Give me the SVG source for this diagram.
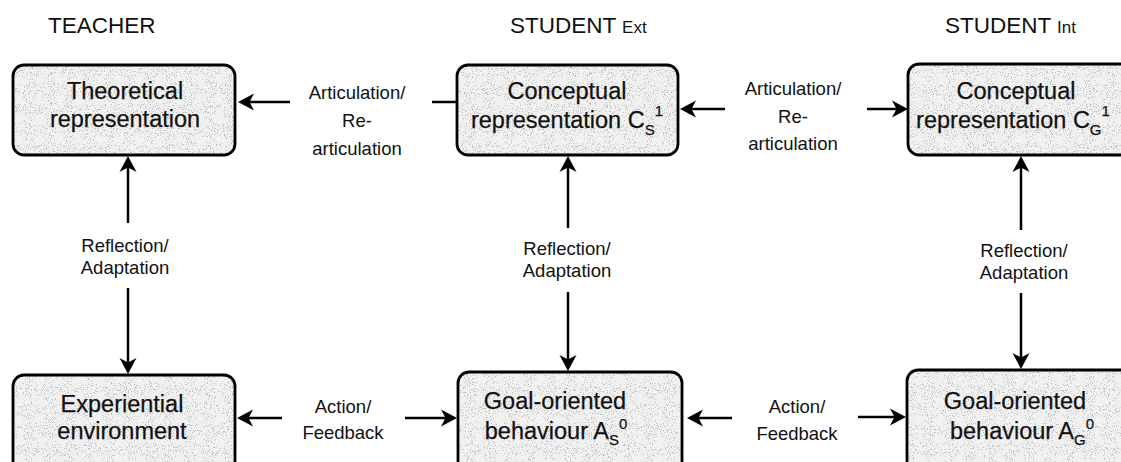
<svg xmlns="http://www.w3.org/2000/svg" width="1121" height="462" viewBox="0 0 1121 462">
  <defs>
    <style>
      text { font-family: "Liberation Sans", Arial, sans-serif; fill: #111; }
      .head { font-size: 22.5px; }
      .headsub { font-size: 17px; }
      .node { font-size: 23.5px; text-anchor: middle; stroke: #111; stroke-width: 0.25px; }
      .idx { font-size: 15px; }
      .lbl { font-size: 18.5px; text-anchor: middle; }
      .fill { fill: #f1f1f1; stroke: none; filter: url(#grain); }
      .edge { fill: none; stroke: #000; stroke-width: 2.8; }
      .link { fill: none; stroke: #000; stroke-width: 2.5; }
      .arrow { marker-end: url(#head); }
    </style>
    <!-- speckled grey fill for the boxes -->
    <filter id="grain" x="0" y="0" width="100%" height="100%">
      <feTurbulence type="fractalNoise" baseFrequency="0.95" numOctaves="2" seed="7" result="noise"/>
      <feColorMatrix in="noise" type="matrix" values="0 0 0 0 0.5  0 0 0 0 0.5  0 0 0 0 0.5  9 0 0 0 -5.3" result="dots"/>
      <feComposite in="dots" in2="SourceGraphic" operator="in" result="clipped"/>
      <feMerge>
        <feMergeNode in="SourceGraphic"/>
        <feMergeNode in="clipped"/>
      </feMerge>
    </filter>
    <!-- barbed arrowhead; tip sits 6px past the line end -->
    <marker id="head" markerUnits="userSpaceOnUse" viewBox="-11 -9 18 18" refX="0" refY="0" markerWidth="18" markerHeight="18" orient="auto">
      <path d="M6,0 L-10,-8.5 L-5.5,0 L-10,8.5 Z" fill="#000"/>
    </marker>
  </defs>

  <rect width="1121" height="462" fill="#fff"/>

  <!-- column headings -->
  <g id="headings">
    <text class="head" x="48" y="33">TEACHER</text>
    <text class="head" x="510" y="33">STUDENT <tspan class="headsub">Ext</tspan></text>
    <text class="head" x="945" y="33">STUDENT <tspan class="headsub">Int</tspan></text>
  </g>

  <!-- connectors -->
  <g id="connectors">
    <!-- articulation, top row -->
    <line class="link arrow" x1="290" y1="102" x2="244" y2="102"/>
    <line class="link" x1="432" y1="102" x2="457" y2="102"/>
    <line class="link arrow" x1="725" y1="109" x2="686" y2="109"/>
    <line class="link arrow" x1="867" y1="109" x2="902" y2="109"/>
    <!-- reflection / adaptation, vertical -->
    <line class="link arrow" x1="128" y1="223" x2="128" y2="162"/>
    <line class="link arrow" x1="128" y1="288" x2="128" y2="368"/>
    <line class="link arrow" x1="568" y1="228" x2="568" y2="162"/>
    <line class="link arrow" x1="568" y1="292" x2="568" y2="365"/>
    <line class="link arrow" x1="1021" y1="230" x2="1021" y2="162"/>
    <line class="link arrow" x1="1021" y1="293" x2="1021" y2="363"/>
    <!-- action / feedback, bottom row -->
    <line class="link arrow" x1="282" y1="418" x2="243" y2="418"/>
    <line class="link arrow" x1="405" y1="418" x2="451" y2="418"/>
    <line class="link arrow" x1="732" y1="418" x2="693" y2="418"/>
    <line class="link arrow" x1="858" y1="417" x2="900" y2="417"/>
  </g>

  <!-- connector labels -->
  <g id="labels">
    <text class="lbl" x="357" y="99">Articulation/</text>
    <text class="lbl" x="357" y="127">Re-</text>
    <text class="lbl" x="357" y="155">articulation</text>
    <text class="lbl" x="793" y="95">Articulation/</text>
    <text class="lbl" x="793" y="123">Re-</text>
    <text class="lbl" x="793" y="150">articulation</text>
    <text class="lbl" x="125" y="252">Reflection/</text>
    <text class="lbl" x="125" y="274">Adaptation</text>
    <text class="lbl" x="567" y="255">Reflection/</text>
    <text class="lbl" x="567" y="277">Adaptation</text>
    <text class="lbl" x="1024" y="257">Reflection/</text>
    <text class="lbl" x="1024" y="279">Adaptation</text>
    <text class="lbl" x="343" y="413">Action/</text>
    <text class="lbl" x="343" y="439">Feedback</text>
    <text class="lbl" x="797" y="413">Action/</text>
    <text class="lbl" x="797" y="440">Feedback</text>
  </g>

  <g id="theoretical">
    <rect class="fill" x="13" y="65" width="222" height="90" rx="11"/>
    <rect class="edge" x="13" y="65" width="222" height="90" rx="11"/>
    <text class="node" x="125" y="99">Theoretical</text>
    <text class="node" x="125" y="127">representation</text>
  </g>

  <g id="conceptual-ext">
    <rect class="fill" x="457" y="65" width="221" height="90" rx="11"/>
    <rect class="edge" x="457" y="65" width="221" height="90" rx="11"/>
    <text class="node" x="567" y="99">Conceptual</text>
    <text class="node" x="567" y="128">representation C<tspan class="idx" dy="7">S</tspan><tspan class="idx" dy="-19">1</tspan></text>
  </g>

  <g id="conceptual-int">
    <rect class="fill" x="908" y="64" width="230" height="91" rx="11"/>
    <rect class="edge" x="908" y="64" width="230" height="91" rx="11"/>
    <text class="node" x="1016" y="99">Conceptual</text>
    <text class="node" x="1013" y="128">representation C<tspan class="idx" dy="7">G</tspan><tspan class="idx" dy="-19">1</tspan></text>
  </g>

  <g id="experiential">
    <rect class="fill" x="13" y="375" width="222" height="100" rx="11"/>
    <rect class="edge" x="13" y="375" width="222" height="100" rx="11"/>
    <text class="node" x="122" y="412">Experiential</text>
    <text class="node" x="122" y="439">environment</text>
  </g>

  <g id="goal-ext">
    <rect class="fill" x="458" y="372" width="224" height="100" rx="11"/>
    <rect class="edge" x="458" y="372" width="224" height="100" rx="11"/>
    <text class="node" x="555" y="409">Goal-oriented</text>
    <text class="node" x="556" y="439">behaviour A<tspan class="idx" dy="6">S</tspan><tspan class="idx" dy="-16">0</tspan></text>
  </g>

  <g id="goal-int">
    <rect class="fill" x="907" y="370" width="230" height="102" rx="11"/>
    <rect class="edge" x="907" y="370" width="230" height="102" rx="11"/>
    <text class="node" x="1015" y="409">Goal-oriented</text>
    <text class="node" x="1022" y="439">behaviour A<tspan class="idx" dy="6">G</tspan><tspan class="idx" dy="-16">0</tspan></text>
  </g>
</svg>
